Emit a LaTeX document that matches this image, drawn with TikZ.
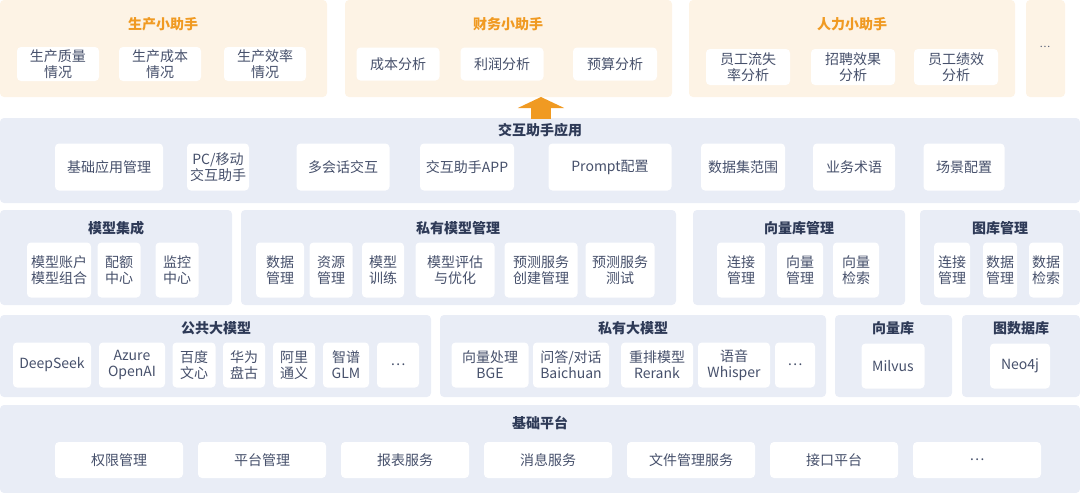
\documentclass[tikz,border=0pt]{standalone}
\usepackage{fontspec}
\setmainfont{Noto Sans CJK SC}
\usetikzlibrary{positioning,arrows.meta}
\definecolor{orbg}{HTML}{FDF3E5}
\definecolor{ortx}{HTML}{F09A22}
\definecolor{blbg}{HTML}{E9EDF6}
\definecolor{bltx}{HTML}{2E3A57}
\definecolor{bxtx}{HTML}{46506B}
\begin{document}
\begin{tikzpicture}[x=1pt,y=-1pt,
    panel/.style={draw=none, rounded corners=4, inner sep=0pt},
    opanel/.style={panel, fill=orbg},
    bpanel/.style={panel, fill=blbg},
    box/.style={draw=none, fill=white, rounded corners=4, align=center,
      text=bxtx, font=\fontsize{14}{16}\selectfont, inner sep=1pt},
    otitle/.style={text=ortx, font=\fontsize{14}{16}\selectfont\bfseries},
    btitle/.style={text=bltx, font=\fontsize{14}{16}\selectfont\bfseries}]
  \useasboundingbox (0,0) rectangle (1080,493);

  % top row
  \fill[opanel] (0,0) rectangle (327,97);
  \fill[opanel] (345,0) rectangle (672,97);
  \fill[opanel] (689,0) rectangle (1015,97);
  \fill[opanel] (1026,0) rectangle (1065,97);
  \node[otitle] (scz) at (163,24) {生产小助手};
  \node[otitle] (cwz) at (508,24) {财务小助手};
  \node[otitle] (rlz) at (852,24) {人力小助手};
  \node[text=bxtx] (odots) at (1045,47) {\dots};
  \node[box, minimum width=82, minimum height=34] (zl) at (58,64) {生产质量\\情况};
  \node[box, minimum width=82, minimum height=34] (cb) at (160,64) {生产成本\\情况};
  \node[box, minimum width=82, minimum height=34] (xl) at (265,64) {生产效率\\情况};
  \node[box, minimum width=83, minimum height=33] (cbfx) at (398,64) {成本分析};
  \node[box, minimum width=83, minimum height=33] (lrfx) at (502,64) {利润分析};
  \node[box, minimum width=84, minimum height=33] (ysfx) at (615,64) {预算分析};
  \node[box, minimum width=84, minimum height=36] (ls) at (748,67) {员工流失\\率分析};
  \node[box, minimum width=84, minimum height=36] (zp) at (853,67) {招聘效果\\分析};
  \node[box, minimum width=84, minimum height=36] (jx) at (956,67) {员工绩效\\分析};

  % layer 2
  \fill[bpanel] (0,118) rectangle (1080,203);
  \node[btitle] (jh) at (540,130) {交互助手应用};
  \coordinate (a0) at (541,119);
  \coordinate (a1) at (541,97);
  \draw[ortx, line width=20pt, -{Triangle[width=46pt,length=11pt]}] (a0) -- (a1);
  \node[box, minimum width=108, minimum height=47] (jc) at (109,167) {基础应用管理};
  \node[box, minimum width=62, minimum height=47] (pc) at (218,167) {PC/移动\\交互助手};
  \node[box, minimum width=93, minimum height=47] (dhh) at (343,167) {多会话交互};
  \node[box, minimum width=94, minimum height=47] (app) at (467,167) {交互助手APP};
  \node[box, minimum width=123, minimum height=47] (pr) at (610,167) {Prompt配置};
  \node[box, minimum width=84, minimum height=47] (sjj) at (743,167) {数据集范围};
  \node[box, minimum width=82, minimum height=47] (yw) at (854,167) {业务术语};
  \node[box, minimum width=81, minimum height=47] (cj) at (964,167) {场景配置};

  % layer 3
  \fill[bpanel] (0,210) rectangle (232,305);
  \fill[bpanel] (241,210) rectangle (676,305);
  \fill[bpanel] (693,210) rectangle (905,305);
  \fill[bpanel] (920,210) rectangle (1080,305);
  \node[btitle] (mxjc) at (116,228) {模型集成};
  \node[btitle] (symx) at (458,228) {私有模型管理};
  \node[btitle] (xlk) at (799,228) {向量库管理};
  \node[btitle] (tk) at (1000,228) {图库管理};
  \node[box, minimum width=64, minimum height=55] (zh) at (59,270) {模型账户\\模型组合};
  \node[box, minimum width=43, minimum height=55] (pe) at (119,270) {配额\\中心};
  \node[box, minimum width=43, minimum height=55] (jk) at (177,270) {监控\\中心};
  \node[box, minimum width=48, minimum height=55] (sj) at (280,270) {数据\\管理};
  \node[box, minimum width=43, minimum height=55] (zy) at (331,270) {资源\\管理};
  \node[box, minimum width=42, minimum height=55] (xn) at (383,270) {模型\\训练};
  \node[box, minimum width=79, minimum height=55] (pg) at (455,270) {模型评估\\与优化};
  \node[box, minimum width=73, minimum height=55] (ycj) at (541,270) {预测服务\\创建管理};
  \node[box, minimum width=69, minimum height=55] (ycs) at (620,270) {预测服务\\测试};
  \node[box, minimum width=48, minimum height=55] (lj) at (741,270) {连接\\管理};
  \node[box, minimum width=46, minimum height=55] (xg) at (800,270) {向量\\管理};
  \node[box, minimum width=46, minimum height=55] (xj) at (856,270) {向量\\检索};
  \node[box, minimum width=36, minimum height=55] (tlj) at (952,270) {连接\\管理};
  \node[box, minimum width=34, minimum height=55] (tsg) at (1000,270) {数据\\管理};
  \node[box, minimum width=34, minimum height=55] (tsj) at (1046,270) {数据\\检索};

  % layer 4
  \fill[bpanel] (0,315) rectangle (431,397);
  \fill[bpanel] (440,315) rectangle (826,397);
  \fill[bpanel] (835,315) rectangle (952,397);
  \fill[bpanel] (962,315) rectangle (1080,397);
  \node[btitle] (gg) at (216,328) {公共大模型};
  \node[btitle] (sy) at (633,328) {私有大模型};
  \node[btitle] (xk) at (893,328) {向量库};
  \node[btitle] (tsk) at (1021,328) {图数据库};
  \node[box, minimum width=78, minimum height=45] (ds) at (52,365) {DeepSeek};
  \node[box, minimum width=66, minimum height=45] (az) at (132,365) {Azure\\OpenAI};
  \node[box, minimum width=43, minimum height=45] (bd) at (194,365) {百度\\文心};
  \node[box, minimum width=42, minimum height=45] (hw) at (244,365) {华为\\盘古};
  \node[box, minimum width=42, minimum height=45] (al) at (294,365) {阿里\\通义};
  \node[box, minimum width=46, minimum height=45] (zpu) at (346,365) {智谱\\GLM};
  \node[box, minimum width=42, minimum height=45] (gd) at (398,365) {\dots};
  \node[box, minimum width=77, minimum height=45] (bge) at (490,365) {向量处理\\BGE};
  \node[box, minimum width=76, minimum height=45] (bc) at (571,365) {问答/对话\\Baichuan};
  \node[box, minimum width=72, minimum height=45] (rr) at (657,365) {重排模型\\Rerank};
  \node[box, minimum width=72, minimum height=45] (wh) at (734,365) {语音\\Whisper};
  \node[box, minimum width=40, minimum height=45] (sd) at (795,365) {\dots};
  \node[box, minimum width=63, minimum height=45] (mv) at (893,366) {Milvus};
  \node[box, minimum width=60, minimum height=45] (neo) at (1020,366) {Neo4j};

  % layer 5
  \fill[bpanel] (0,405) rectangle (1080,493);
  \node[btitle] (jcpt) at (540,423) {基础平台};
  \foreach \t [count=\i] in {权限管理,平台管理,报表服务,消息服务,文件管理服务,接口平台,\dots}
    \node[box, minimum width=128, minimum height=36] (pt\i) at ({119+143*(\i-1)},460) {\t};
\end{tikzpicture}
\end{document}
